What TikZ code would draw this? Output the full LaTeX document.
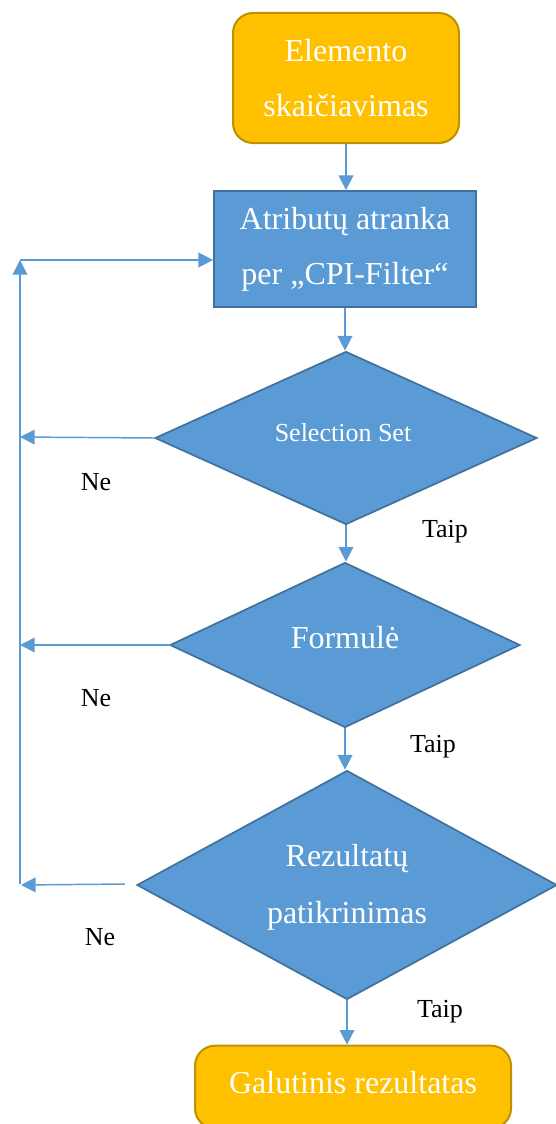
\documentclass[tikz,border=0pt]{standalone}
\usepackage{fontspec}
\setmainfont{Liberation Serif}
\usetikzlibrary{shapes.geometric,arrows.meta}
\definecolor{gold}{HTML}{FFC000}
\definecolor{goldline}{HTML}{BF9000}
\definecolor{blue}{HTML}{5B9BD5}
\definecolor{blueline}{HTML}{41719C}
\tikzset{
  terminal/.style={rectangle, rounded corners=15pt, fill=gold, draw=goldline, line width=1.5pt,
    text=white, align=center, inner sep=0pt, font=\fontsize{24}{41}\selectfont},
  process/.style={rectangle, fill=blue, draw=blueline, line width=1.3pt,
    text=white, align=center, inner sep=0pt, font=\fontsize{24}{41}\selectfont},
  decision/.style={diamond, fill=blue, draw=blueline, line width=1.3pt, aspect=1,
    text=white, align=center, inner sep=0pt, font=\fontsize{24}{43}\selectfont},
  arr/.style={draw=blue, line width=1.1pt, -{Triangle[width=11pt,length=11pt]}},
  lbl/.style={text=black, font=\fontsize{19.5}{23}\selectfont, inner sep=0pt}
}
\begin{document}
\begin{tikzpicture}[x=0.75pt,y=-0.75pt]
\useasboundingbox (0,0) rectangle (556,1124);
\begin{scope}
\clip (0,0) rectangle (556,1124);
% boxes and decisions
\node[terminal, minimum width=169.5pt, minimum height=97.5pt] (start) at (346,78) {Elemento\\skaičiavimas};
\node[process, minimum width=196.5pt, minimum height=87pt] (attr) at (345,249) {Atributų atranka\\per „CPI-Filter“};
\node[decision, minimum width=286.5pt, minimum height=129.75pt] (sel) at (346,438) {};
\node[text=white, font=\fontsize{19.5}{23}\selectfont, inner sep=0pt] (seltxt) at (343,433) {Selection Set};
\node[decision, minimum width=262.5pt, minimum height=123.75pt] (form) at (345,645) {};
\node[text=white, font=\fontsize{24}{29}\selectfont, inner sep=0pt] (formtxt) at (345,638) {Formulė};
\node[decision, minimum width=315pt, minimum height=171.75pt] (check) at (347,885) {};
\node[text=white, align=center, font=\fontsize{24}{43}\selectfont, inner sep=0pt] (checktxt) at (347,887) {Rezultatų\\patikrinimas};
\node[terminal, minimum width=237pt, minimum height=62pt] (final) at (353,1087) {};
\node[text=white, font=\fontsize{24}{29}\selectfont, inner sep=0pt] (finaltxt) at (353,1083) {Galutinis rezultatas};

% main flow
\draw[arr] (start.south) -- (start.south |- attr.north);
\draw[arr] (attr.south) -- (attr.south |- sel.north);
\draw[arr] (sel.south) -- (sel.south |- form.north);
\draw[arr] (form.south) -- (form.south |- check.north);
\draw[arr] (check.south) -- (check.south |- final.north);

% feedback loop
\coordinate (loopbot) at (20,884);
\coordinate (looptop) at (20,260);
\coordinate (ne1) at (20,437);
\coordinate (ne2) at (20,645);
\coordinate (ne3start) at (125,884);
\coordinate (ne3end) at (21,885);
\draw[arr] (loopbot) -- (looptop);
\draw[arr] (looptop) -- (attr.west |- looptop);
\draw[arr] (sel.west) -- (ne1);
\draw[arr] (form.west) -- (ne2);
\draw[arr] (ne3start) -- (ne3end);

% branch labels
\node[lbl] (ne1l) at (96,482) {Ne};
\node[lbl] (ne2l) at (96,698) {Ne};
\node[lbl] (ne3l) at (100,937) {Ne};
\node[lbl] (t1) at (445,532) {Taip};
\node[lbl] (t2) at (433,747) {Taip};
\node[lbl] (t3) at (440,1012) {Taip};
\end{scope}
\end{tikzpicture}
\end{document}
